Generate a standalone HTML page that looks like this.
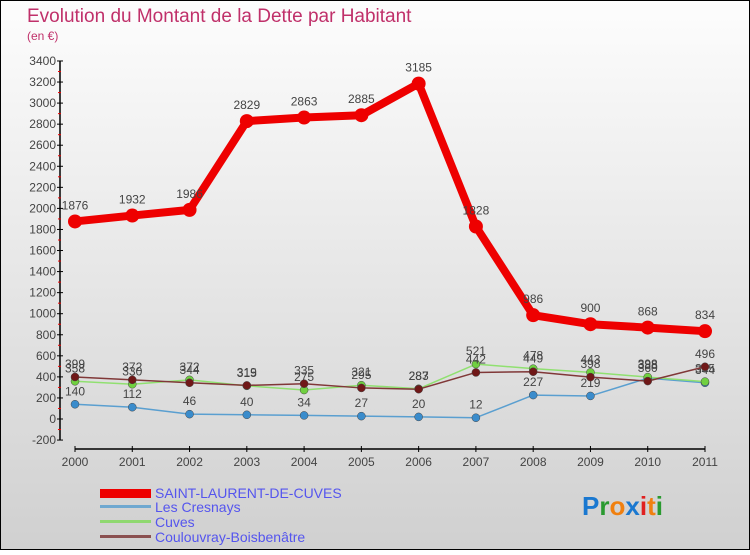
<!DOCTYPE html>
<html><head><meta charset="utf-8"><style>
body{margin:0;width:750px;height:550px;overflow:hidden;font-family:"Liberation Sans",sans-serif}
</style></head><body>
<svg id="chart" width="750" height="550" xmlns="http://www.w3.org/2000/svg">
<defs><linearGradient id="bg" x1="0" y1="0" x2="0" y2="1"><stop offset="0" stop-color="#fdfdfd"/><stop offset="1" stop-color="#d0d0d0"/></linearGradient></defs>
<rect x="0.5" y="0.5" width="749" height="549" fill="url(#bg)" stroke="#000"/>
<text x="27" y="22" font-size="19" fill="#c0306a">Evolution du Montant de la Dette par Habitant</text>
<text x="27" y="40" font-size="12" fill="#c0306a">(en €)</text>
<g id="axes"></g><g id="series"></g>
<g>
<rect x="100" y="489" width="51" height="9" fill="#e00"/>
<text x="155" y="498" font-size="14" fill="#5555ee">SAINT-LAURENT-DE-CUVES</text>
<rect x="100" y="505" width="51" height="3" fill="#6fa8d0"/>
<text x="155" y="512" font-size="14" fill="#5555ee">Les Cresnays</text>
<rect x="100" y="520" width="51" height="3" fill="#8fd870"/>
<text x="155" y="527" font-size="14" fill="#5555ee">Cuves</text>
<rect x="100" y="535" width="51" height="3" fill="#8a5050"/>
<text x="155" y="542" font-size="14" fill="#5555ee">Coulouvray-Boisbenâtre</text>
</g>
<text x="582" y="515" font-size="26" font-weight="bold"><tspan fill="#1a78d0">P</tspan><tspan fill="#2a9a30">r</tspan><tspan fill="#f08010">o</tspan><tspan fill="#1a78d0">x</tspan><tspan fill="#e02020">i</tspan><tspan fill="#f08010">t</tspan><tspan fill="#2a9a30">i</tspan></text>
</svg>
<script>
const years=["2000","2001","2002","2003","2004","2005","2006","2007","2008","2009","2010","2011"];
const yTicks=[-200,0,200,400,600,800,1000,1200,1400,1600,1800,2000,2200,2400,2600,2800,3000,3200,3400];
const saintLaurent=[1876,1932,1986,2829,2863,2885,3185,1828,986,900,868,834];
const cresnays=[140,112,46,40,34,27,20,12,227,219,388,344];
const cuves=[358,330,372,315,275,321,287,521,478,443,398,355];
const coulouvray=[399,372,344,319,335,295,283,442,449,398,360,496];
const NS="http://www.w3.org/2000/svg";
const X=i=>75+i*(630/11);
const Y=v=>419-v*(21.06/200);
function mk(t,a,p){const e=document.createElementNS(NS,t);for(const k in a)e.setAttribute(k,a[k]);p.appendChild(e);return e;}
const ax=document.getElementById('axes'),sr=document.getElementById('series');
let l=mk('line',{x1:60,y1:Y(3400),x2:60,y2:Y(-200),stroke:'#000','stroke-width':1.5},ax);


yTicks.forEach((v,i)=>{
 mk('line',{x1:57,y1:Y(v),x2:63,y2:Y(v),stroke:'#000'},ax);
 if(i<yTicks.length-1)mk('line',{x1:58,y1:Y(v+100),x2:61,y2:Y(v+100),stroke:'#e00'},ax);
 const t=mk('text',{x:56,y:Y(v)+4,'font-size':12,fill:'#444','text-anchor':'end'},ax);t.textContent=v;
 
 
});
l=mk('line',{x1:X(0),y1:449,x2:X(11),y2:449,stroke:'#000','stroke-width':1.5},ax);


years.forEach((y,i)=>{
 mk('line',{x1:X(i),y1:446,x2:X(i),y2:452,stroke:'#000'},ax);
 const t=mk('text',{x:X(i),y:466,'font-size':12,fill:'#444','text-anchor':'middle'},ax);t.textContent=y;
 
 
});
function draw(data,name,col,dot,w,r,fs){
 const g=mk('g',{},sr);
 
 
 mk('polyline',{points:data.map((v,i)=>X(i)+','+Y(v)).join(' '),fill:'none',stroke:col,'stroke-width':w,'stroke-linejoin':'round'},g);
 data.forEach((v,i)=>{
  const c=mk('circle',{cx:X(i),cy:Y(v),r:r,fill:dot,stroke:w>3?'none':'#444','stroke-width':0.5},g);
  
  
  const t=mk('text',{x:X(i),y:Y(v)-(w>3?12:9),'font-size':fs,fill:'#444','text-anchor':'middle'},g);t.textContent=v;
  
  
 });
}
draw(cresnays,'cresnays','#5a9fd0','#3a8ccc',1.5,4,12);
draw(cuves,'cuves','#90e070','#70d040',1.5,4,12);
draw(coulouvray,'coulouvray','#803838','#701818',1.5,4,12);
draw(saintLaurent,'saint-laurent','#ee0000','#ee0000',8,7,12);
</script>
</body></html>
